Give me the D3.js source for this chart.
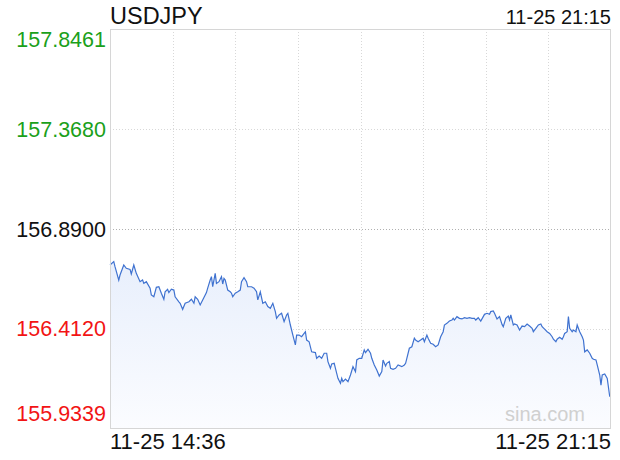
<!DOCTYPE html>
<html><head><meta charset="utf-8">
<script src="https://cdn.jsdelivr.net/npm/d3@7"></script>
<style>
html,body{margin:0;padding:0;background:#fff;}
svg{display:block;font-family:"Liberation Sans",Arial,Helvetica,sans-serif;}
</style></head>
<body><svg id="c" width="620" height="460"></svg>
<script>
const title = "USDJPY";
const stampTime = "11-25 21:15";
const startLabel = "11-25 14:36";
const endLabel = "11-25 21:15";
const yTicks = [157.8461, 157.3680, 156.8900, 156.4120, 155.9339];
const prevClose = 156.8900;
// minutes after 14:36
const minutes = [0,3,4,7,8,11,13,16,17,19,21,24,26,27,29,32,33,35,37,39,41,43,44,46,47,49,51,52,55,56,58,60,63,65,67,68,70,72,74,77,78,80,81,82,84,85,87,89,90,91,92,94,96,97,98,100,102,104,105,107,109,110,113,115,117,118,120,122,124,126,128,130,132,133,135,137,139,141,142,144,146,148,149,151,153,156,157,159,161,164,165,167,169,171,173,174,176,177,179,180,182,184,185,186,188,190,192,194,196,197,199,201,203,204,206,208,209,211,213,215,217,218,220,221,223,224,226,228,230,233,235,236,237,239,241,243,244,246,248,250,251,253,254,256,258,260,262,264,266,267,269,271,273,274,275,277,279,281,283,285,287,289,291,292,294,296,298,299,301,303,304,306,307,309,311,313,314,316,318,319,320,322,323,325,327,329,331,333,335,337,338,340,342,344,345,347,349,351,353,354,356,357,359,361,362,363,365,366,367,369,370,372,373,375,377,378,379,381,383,385,386,388,389,391,392,393,395,397,399];
const prices = [156.718,156.734,156.710,156.646,156.670,156.718,156.702,156.697,156.675,156.718,156.678,156.638,156.646,156.630,156.638,156.607,156.575,156.566,156.611,156.614,156.583,156.554,156.590,156.602,156.586,156.602,156.598,156.566,156.542,156.535,156.506,156.535,156.542,156.554,156.535,156.566,156.554,156.527,156.551,156.586,156.607,156.646,156.662,156.614,156.678,156.630,156.638,156.662,156.627,156.654,156.646,156.598,156.590,156.583,156.566,156.583,156.590,156.598,156.638,156.657,156.638,156.614,156.614,156.607,156.590,156.551,156.590,156.535,156.542,156.519,156.511,156.535,156.495,156.463,156.479,156.487,156.447,156.479,156.487,156.431,156.383,156.336,156.383,156.383,156.375,156.399,156.359,156.351,156.303,156.299,156.272,156.283,156.272,156.296,156.296,156.256,156.224,156.245,156.248,156.224,156.176,156.152,156.176,156.160,156.172,156.160,156.192,156.232,156.208,156.264,156.272,156.272,156.312,156.299,156.315,156.296,156.272,156.240,156.216,156.187,156.208,156.264,156.235,156.248,156.256,156.224,156.219,156.224,156.240,156.232,156.240,156.248,156.272,156.320,156.327,156.368,156.359,156.351,156.359,156.368,156.351,156.383,156.368,156.344,156.339,156.327,156.336,156.375,156.399,156.431,156.439,156.450,156.455,156.463,156.455,156.471,156.463,156.460,156.466,156.463,156.466,156.463,156.463,156.455,156.466,156.450,156.471,156.482,156.487,156.482,156.495,156.498,156.487,156.460,156.471,156.434,156.423,156.463,156.474,156.455,156.479,156.431,156.436,156.431,156.407,156.426,156.423,156.436,156.426,156.415,156.399,156.415,156.431,156.436,156.423,156.411,156.399,156.391,156.375,156.363,156.351,156.363,156.372,156.363,156.375,156.391,156.399,156.471,156.415,156.399,156.407,156.399,156.431,156.399,156.375,156.359,156.303,156.312,156.296,156.272,156.267,156.264,156.240,156.192,156.144,156.192,156.197,156.176,156.088];
const totalMinutes = 400;
const gridDivisions = 8;

const data = minutes.map((m,i)=>({m, p: prices[i]}));
const svg = d3.select("#c");
const L = 110, R = 611, T = 29, B = 429;
const x = d3.scaleLinear().domain([0,totalMinutes]).range([L,R]);
const y = d3.scaleLinear().domain([yTicks[yTicks.length-1], yTicks[0]]).range([B,T]);

const defs = svg.append("defs");
const grad = defs.append("linearGradient").attr("id","fillg")
  .attr("gradientUnits","userSpaceOnUse").attr("x1",0).attr("x2",0).attr("y1",y(d3.max(prices))).attr("y2",B);
grad.append("stop").attr("offset","0%").attr("stop-color","#e8effc");
grad.append("stop").attr("offset","100%").attr("stop-color","#fbfcff");

// vertical grid
const vt = d3.range(1, gridDivisions).map(i => i*totalMinutes/gridDivisions);
svg.append("g").selectAll("line").data(vt).join("line")
  .attr("x1",d=>Math.round(x(d))+0.5).attr("x2",d=>Math.round(x(d))+0.5)
  .attr("y1",T).attr("y2",B).attr("stroke","#d8d8d8").attr("stroke-dasharray","1,2");
// horizontal grid
svg.append("g").selectAll("line").data(yTicks.slice(1,-1)).join("line")
  .attr("x1",L).attr("x2",R)
  .attr("y1",d=>Math.round(y(d))+0.5).attr("y2",d=>Math.round(y(d))+0.5)
  .attr("stroke",d=>d===prevClose?"#b0b0b0":"#d8d8d8").attr("stroke-dasharray","1,2");

// area + line
const area = d3.area().x(d=>x(d.m)).y0(B).y1(d=>y(d.p));
const line = d3.line().x(d=>x(d.m)).y(d=>y(d.p));
svg.append("path").datum(data).attr("d",area).attr("fill","url(#fillg)");
svg.append("path").datum(data).attr("d",line).attr("fill","none").attr("stroke","#3f72d0").attr("stroke-width",1.2);

// border
svg.append("rect").attr("x",L+0.5).attr("y",T+0.5).attr("width",R-L-1).attr("height",B-T-1)
  .attr("fill","none").attr("stroke","#d6d6d6");

// watermark
svg.append("text").attr("x",585).attr("y",421).attr("text-anchor","end")
  .attr("font-size",20).attr("fill","#d0d0d0").text("sina.com");

// y labels
const colorOf = v => v > prevClose ? "#1aa01a" : (v < prevClose ? "#f21414" : "#111");
svg.append("g").selectAll("text").data(yTicks).join("text")
  .attr("x",106).attr("text-anchor","end").attr("font-size",21.5)
  .attr("y",(d,i)=> i===0 ? y(d)+18 : (i===yTicks.length-1 ? y(d)-8 : y(d)+7.5))
  .attr("fill",colorOf).text(d=>d.toFixed(4));

// title and timestamps
svg.append("text").attr("x",L).attr("y",24).attr("font-size",23.5).attr("fill","#111").text(title);
svg.append("text").attr("x",R).attr("y",24).attr("text-anchor","end").attr("font-size",20).attr("fill","#111").text(stampTime);
svg.append("text").attr("x",L).attr("y",449).attr("font-size",22).attr("fill","#111").text(startLabel);
svg.append("text").attr("x",R).attr("y",449).attr("text-anchor","end").attr("font-size",22).attr("fill","#111").text(endLabel);
</script></body></html>
